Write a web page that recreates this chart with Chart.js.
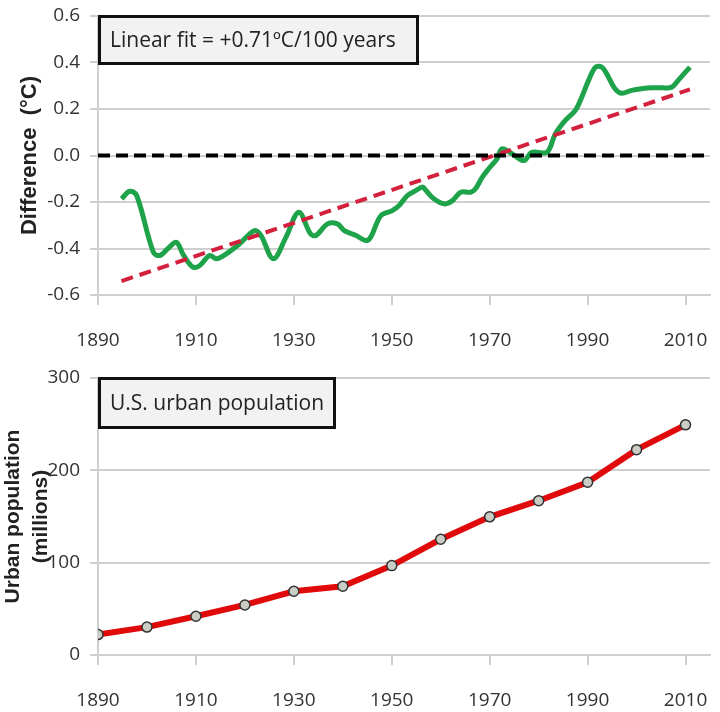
<!DOCTYPE html>
<html>
<head>
<meta charset="utf-8">
<script src="https://cdn.jsdelivr.net/npm/chart.js@4.4.1/dist/chart.umd.min.js"></script>
<style>
  body { margin: 0; background: #fff; }
  #wrap { position: relative; width: 720px; height: 712px; }
  canvas { position: absolute; left: 0; }
  #topChart { top: 0; }
  #bottomChart { top: 360px; }
</style>
</head>
<body>
<div id="wrap">
  <canvas id="topChart" width="720" height="360"></canvas>
  <canvas id="bottomChart" width="720" height="352"></canvas>
</div>
<script>
// temperature difference (smoothed)
const tempYears = [1894.8, 1896.5, 1897.9, 1901.3, 1902.6, 1904.3, 1906.0, 1907.5, 1909.4, 1910.8,
  1912.8, 1914.2, 1916.2, 1918.9, 1922.0, 1923.3, 1925.8, 1928.4, 1931.0, 1933.4,
  1934.5, 1936.9, 1938.9, 1940.3, 1942.7, 1944.7, 1945.7, 1947.8, 1950.1, 1951.5,
  1953.2, 1954.9, 1956.3, 1957.0, 1958.6, 1960.7, 1962.4, 1964.1, 1966.1, 1967.1,
  1968.5, 1969.8, 1971.5, 1972.5, 1974.6, 1977.0, 1978.6, 1981.7, 1983.4, 1985.4,
  1987.5, 1988.8, 1990.2, 1991.6, 1992.9, 1993.9, 1995.6, 1996.9, 1999.0, 2001.0,
  2003.1, 2005.1, 2007.2, 2008.5, 2010.9];
const tempDiff = [-0.186, -0.154, -0.172, -0.416, -0.430, -0.400, -0.373, -0.430, -0.480, -0.473,
  -0.430, -0.444, -0.423, -0.380, -0.323, -0.345, -0.444, -0.351, -0.244, -0.337,
  -0.344, -0.294, -0.294, -0.323, -0.344, -0.366, -0.351, -0.258, -0.237, -0.215,
  -0.172, -0.151, -0.136, -0.151, -0.186, -0.208, -0.194, -0.158, -0.158, -0.143,
  -0.093, -0.057, -0.014, 0.029, 0.007, -0.022, 0.014, 0.014, 0.093, 0.150,
  0.194, 0.251, 0.323, 0.380, 0.380, 0.351, 0.287, 0.268, 0.280, 0.287,
  0.291, 0.291, 0.294, 0.323, 0.380];

const fitYears = [1894.8, 2010.9];
const fitValues = [-0.54, 0.284];
const zeroYears = [1890, 2015];
const zeroValues = [0, 0];

// U.S. urban population (millions)
const popYears = [1890, 1900, 1910, 1920, 1930, 1940, 1950, 1960, 1970, 1980, 1990, 2000, 2010];
const popValues = [22.1, 30.2, 42.0, 54.2, 69.0, 74.4, 96.8, 125.3, 149.6, 167.1, 187.1, 222.4, 249.3];

const xTicks = [1890, 1910, 1930, 1950, 1970, 1990, 2010];
const tempTicks = [-0.6, -0.4, -0.2, 0.0, 0.2, 0.4, 0.6];
const popTicks = [0, 100, 200, 300];

const topNote = "Linear fit = +0.71ºC/100 years";
const bottomNote = "U.S. urban population";

const tickFont = { family: "'Open Sans', sans-serif", size: 19 };
const gridColor = "#cfcfcf";

function pts(xs, ys) {
  return xs.map((x, i) => ({ x: x, y: ys[i] }));
}

function noteBox(text, w, h) {
  return {
    id: "note",
    afterDraw(chart) {
      const ctx = chart.ctx;
      const a = chart.chartArea;
      ctx.save();
      ctx.fillStyle = "#f2f2f2";
      ctx.fillRect(a.left, a.top, w, h);
      ctx.lineWidth = 3;
      ctx.strokeStyle = "#111";
      ctx.strokeRect(a.left + 1.5, a.top + 0.5, w - 2, h - 1);
      ctx.fillStyle = "#222";
      ctx.font = "21px 'Open Sans', sans-serif";
      ctx.textBaseline = "middle";
      ctx.fillText(text, a.left + 12, a.top + h / 2 + 1);
      ctx.restore();
    }
  };
}

function xScale(height) {
  return {
    type: "linear",
    min: 1890,
    max: 2015,
    afterBuildTicks: s => { s.ticks = xTicks.map(v => ({ value: v })); },
    afterFit: s => { s.height = height; s.paddingLeft = 0; s.paddingRight = 0; },
    grid: { drawOnChartArea: false, color: gridColor, tickLength: 10, lineWidth: 2 },
    border: { color: gridColor, width: 2 },
    ticks: { color: "#333", font: tickFont, padding: 24, maxRotation: 0, callback: v => String(v) }
  };
}

function yFit(s) {
  s.width = 98;
  s.paddingTop = 0;
  s.paddingBottom = 0;
}

new Chart(document.getElementById("topChart"), {
  type: "line",
  data: {
    datasets: [
      { data: pts(zeroYears, zeroValues), borderColor: "#000", borderWidth: 4, borderDash: [12, 6], pointRadius: 0 },
      { data: pts(fitYears, fitValues), borderColor: "#d3203c", borderWidth: 4, borderDash: [12, 7], pointRadius: 0 },
      { data: pts(tempYears, tempDiff), borderColor: "#1fa34a", borderWidth: 5, pointRadius: 0, tension: 0.35 }
    ]
  },
  options: {
    responsive: false,
    animation: false,
    layout: { padding: { top: 16, right: 10, left: 0, bottom: 0 } },
    plugins: { legend: { display: false }, tooltip: { enabled: false } },
    scales: {
      x: xScale(65),
      y: {
        min: -0.6,
        max: 0.6,
        afterBuildTicks: s => { s.ticks = tempTicks.map(v => ({ value: v })); },
        afterFit: yFit,
        grid: { color: gridColor, lineWidth: 2, tickLength: 8 },
        border: { color: gridColor, width: 2 },
        ticks: { color: "#333", font: tickFont, padding: 10, callback: v => v.toFixed(1) },
        title: {
          display: true,
          text: "Difference  (°C)",
          color: "#222",
          font: { family: "'Liberation Sans', sans-serif", size: 22, weight: "bold" },
          padding: { top: 17, bottom: 0 }
        }
      }
    }
  },
  plugins: [noteBox(topNote, 320, 48)]
});

new Chart(document.getElementById("bottomChart"), {
  type: "line",
  data: {
    datasets: [
      {
        data: pts(popYears, popValues),
        borderColor: "#e00a0a",
        borderWidth: 6,
        pointRadius: 5,
        pointBackgroundColor: "#c9cdc4",
        pointBorderColor: "#333",
        pointBorderWidth: 1.5
      }
    ]
  },
  options: {
    responsive: false,
    animation: false,
    layout: { padding: { top: 18, right: 10, left: 0, bottom: 0 } },
    plugins: { legend: { display: false }, tooltip: { enabled: false } },
    scales: {
      x: xScale(57),
      y: {
        min: 0,
        max: 300,
        afterBuildTicks: s => { s.ticks = popTicks.map(v => ({ value: v })); },
        afterFit: yFit,
        grid: { color: gridColor, lineWidth: 2, tickLength: 8 },
        border: { color: gridColor, width: 2 },
        ticks: { color: "#333", font: tickFont, padding: 10 },
        title: {
          display: true,
          text: ["Urban population", "(millions)"],
          color: "#222",
          font: { family: "'Liberation Sans', sans-serif", size: 21, weight: "bold", lineHeight: 1.3 },
          padding: { top: 0, bottom: 0 }
        }
      }
    }
  },
  plugins: [noteBox(bottomNote, 237, 50)]
});
</script>
</body>
</html>
